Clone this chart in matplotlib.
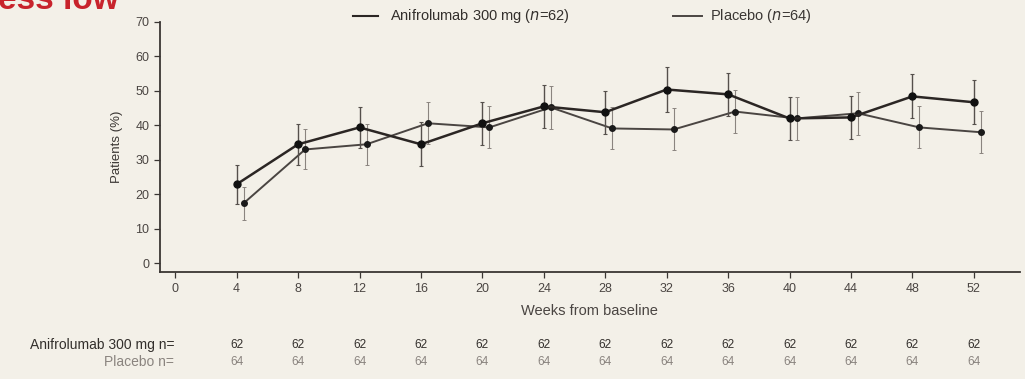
import matplotlib
matplotlib.use("Agg")
import matplotlib.pyplot as plt
import matplotlib.transforms as mtransforms

plt.rcParams['font.family'] = ['Liberation Sans', 'DejaVu Sans']

# Visit weeks and response rates (%) with error-bar half widths
weeks = [4, 8, 12, 16, 20, 24, 28, 32, 36, 40, 44, 48, 52]
anif_pct = [22.9, 34.5, 39.4, 34.5, 40.6, 45.5, 43.8, 50.4, 49.0, 42.0, 42.3, 48.4, 46.7]
anif_err = [5.6, 6.0, 6.0, 6.4, 6.2, 6.3, 6.3, 6.4, 6.3, 6.2, 6.2, 6.4, 6.4]
plac_pct = [17.4, 33.0, 34.5, 40.6, 39.4, 45.2, 39.1, 38.8, 44.0, 42.0, 43.5, 39.4, 38.0]
plac_err = [4.8, 5.8, 5.9, 6.1, 6.1, 6.2, 6.1, 6.1, 6.2, 6.2, 6.2, 6.1, 6.1]

x_ticks = [0, 4, 8, 12, 16, 20, 24, 28, 32, 36, 40, 44, 48, 52]
y_ticks = [0, 10, 20, 30, 40, 50, 60, 70]

anif_label = "Anifrolumab 300 mg ($n$=62)"
plac_label = "Placebo ($n$=64)"
risk_rows = ["Anifrolumab 300 mg n=", "Placebo n="]
anif_n = [62] * 13
plac_n = [64] * 13

bg = '#f3f0e8'
fig = plt.figure(figsize=(10.25, 3.79), dpi=100, facecolor=bg)
ax = fig.add_axes([0.156, 0.282, 0.839, 0.660], facecolor=bg)

dark = '#2b2624'
mid = '#4a4542'

# dodge placebo slightly to the right
shift = mtransforms.ScaledTranslation(7 / 100, 0, fig.dpi_scale_trans)

ax.errorbar(weeks, anif_pct, yerr=anif_err, color=dark, lw=1.8, marker='o',
            ms=5, mfc='#111111', mec='#111111', elinewidth=1.0, ecolor='#55504c',
            capsize=1.5, capthick=0.8, zorder=3)
ax.errorbar(weeks, plac_pct, yerr=plac_err, color=mid, lw=1.4, marker='o',
            ms=4, mfc='#1a1a1a', mec='#1a1a1a', elinewidth=0.8, ecolor='#8a847f',
            capsize=1.5, capthick=0.7, zorder=2,
            transform=ax.transData + shift)

ax.set_xlim(-1.0, 55.0)
ax.set_ylim(-2.6, 70)
ax.set_xticks(x_ticks)
ax.set_yticks(y_ticks)
for s in ('top', 'right'):
    ax.spines[s].set_visible(False)
for s in ('left', 'bottom'):
    ax.spines[s].set_color('#3a3633')
    ax.spines[s].set_linewidth(1.3)
ax.tick_params(axis='both', colors='#3a3633', labelcolor='#4a4542',
               labelsize=9, length=4, width=0.9)
ax.set_ylabel('Patients (%)', fontsize=9.5, color='#3a3633', labelpad=9)
ax.set_xlabel('Weeks from baseline', fontsize=10.5, color='#4a4542', labelpad=7)

# legend drawn across the top
fig.add_artist(plt.Line2D([353 / 1025, 378 / 1025], [1 - 16 / 379] * 2,
                          color=dark, lw=1.5))
fig.text(390 / 1025, 1 - 16 / 379, anif_label, fontsize=10.5, color='#332f2c',
         va='center', ha='left')
fig.add_artist(plt.Line2D([673 / 1025, 702 / 1025], [1 - 16 / 379] * 2,
                          color=mid, lw=1.4))
fig.text(710 / 1025, 1 - 16 / 379, plac_label, fontsize=10.5, color='#3a3633',
         va='center', ha='left')

# number-at-risk table
row_y = [1 - 345 / 379, 1 - 362 / 379]
row_col = ['#332f2c', '#8a847f']
ax_tr = mtransforms.blended_transform_factory(ax.transData, fig.transFigure)
for ry, lab, vals, c in zip(row_y, risk_rows, [anif_n, plac_n], row_col):
    fig.text(174 / 1025, ry, lab, fontsize=10, color=c, ha='right', va='center')
    for w, v in zip(weeks, vals):
        ax.text(w, ry, str(v), transform=ax_tr, fontsize=8.5, color=c,
                ha='center', va='center', clip_on=False)

# heading cut off at the top edge
fig.text(-0.002, 1 - 9 / 379, 'ess low', fontsize=24, color='#c8232c',
         fontweight='bold', ha='left', va='baseline')

fig.savefig('out.png', dpi=100, facecolor=bg)
